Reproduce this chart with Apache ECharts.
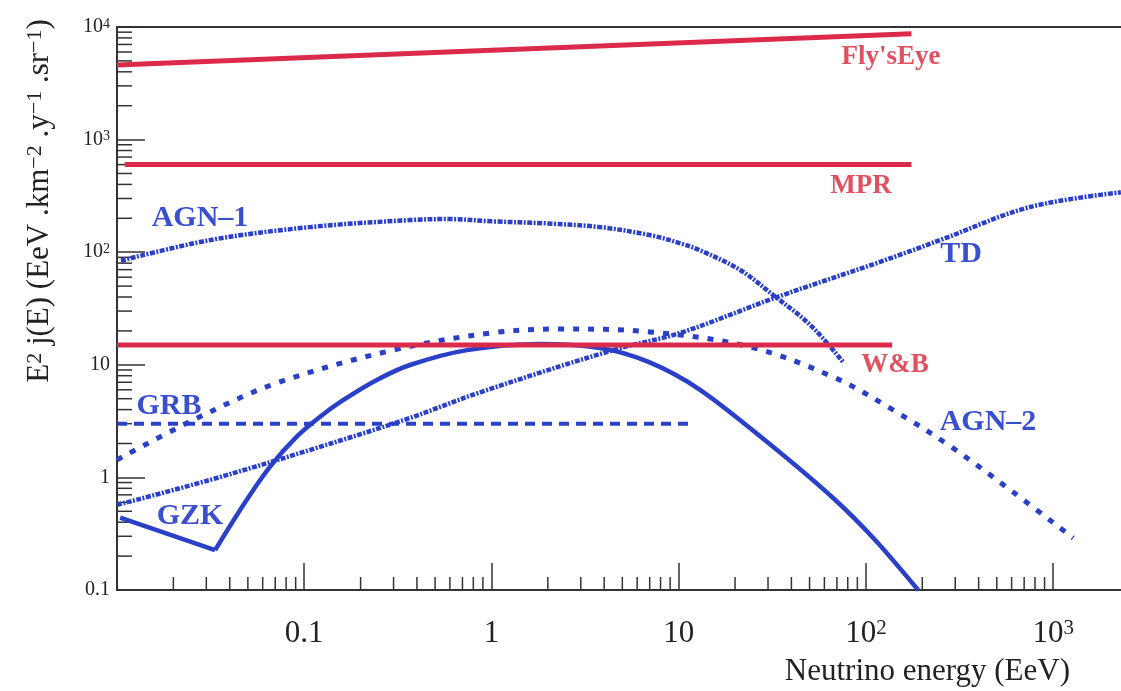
<!DOCTYPE html>
<html>
<head>
<meta charset="utf-8">
<title>Neutrino flux limits</title>
<script src="https://cdn.jsdelivr.net/npm/echarts@6/dist/echarts.min.js"></script>
<style>
  html, body { margin: 0; padding: 0; background: #fff; }
  #main { width: 1121px; height: 691px; }
</style>
</head>
<body>
<div id="main"></div>
<script>
// neutrino energy (EeV) and E^2 j(E)
var flysEyeX = [0.01, 175];
var flysEyeY = [4600, 8700];
var mprX = [0.011, 175];
var mprY = [600, 600];
var wbX = [0.01, 138];
var wbY = [15, 15];
var grbX = [0.01, 11.5];
var grbY = [3, 3];

var agn1X = [0.0105, 0.0314, 0.107, 0.367, 0.6, 1, 2, 3.8, 7, 10.2, 13, 21.3, 31.9, 50.4, 75.5];
var agn1Y = [84, 128, 167, 193, 197, 188, 180, 167, 142, 120, 104, 69.5, 41.7, 22.6, 10.6];

var tdX = [0.01, 0.0314, 0.107, 0.367, 0.87, 4.46, 10.2, 33.6, 119, 249, 753, 2300];
var tdY = [0.57, 0.95, 1.75, 3.37, 5.7, 13.5, 19.2, 40, 82, 128, 252, 340];

var agn2X = [0.01, 0.0255, 0.0716, 0.298, 1, 2.3, 7, 24, 66.8, 139.7, 292, 611, 1280];
var agn2Y = [1.43, 3.23, 6.9, 13.5, 19.2, 20.8, 19.6, 14.4, 7.8, 3.97, 1.82, 0.74, 0.29];

// GZK has a sharp dip at ~0.033 EeV (index 1)
var gzkX = [0.0104, 0.0334, 0.0473, 0.0657, 0.0912, 0.1215, 0.162, 0.244, 0.367, 0.74, 1.8, 3.8, 6.9, 13, 29.7, 66.8, 112, 190];
var gzkY = [0.44, 0.226, 0.569, 1.245, 2.3, 3.46, 4.87, 7.33, 9.96, 13.5, 15.3, 14.1, 10.6, 6.0, 2.06, 0.656, 0.278, 0.1];
var gzkDip = 1;

var xMin = 0.01, xMax = 2480;
var yMin = 0.1, yMax = 10000;
var xDecades = [0.01, 0.1, 1, 10, 100];
var yDecades = [0.1, 1, 10, 100, 1000];
var minorSteps = [2, 3, 4, 5, 6, 7, 8, 9];

function pairs(xs, ys) {
  return xs.map(function (x, i) { return [x, ys[i]]; });
}

// minor ticks at 2..9 of each decade, drawn through the axes
var minorTicks = [];
xDecades.forEach(function (d) {
  minorSteps.forEach(function (m) {
    minorTicks.push([d * m, yMin, 0]);
  });
});
yDecades.forEach(function (d) {
  minorSteps.forEach(function (m) {
    minorTicks.push([xMin, d * m, 1]);
  });
});

var serif = "'Liberation Serif', 'DejaVu Serif', serif";
var red = '#dc2b4a';
var redText = '#e0505e';
var blue = '#2b40c8';
var blueText = '#3a4fd0';

function powLabel(v) {
  var l = Math.log10(v);
  var e = Math.round(l);
  if (Math.abs(l - e) > 1e-6 || e < -1) return '';
  if (e === -1) return '0.1';
  if (e === 0) return '1';
  if (e === 1) return '10';
  return '10{s|' + e + '}';
}

function blueLabel(x, y, text) {
  return { type: 'text', x: x, y: y, style: { text: text, font: 'bold 30px ' + serif, fill: blueText, align: 'center', verticalAlign: 'middle' } };
}
function redLabel(x, y, text) {
  return { type: 'text', x: x, y: y, style: { text: text, font: 'bold 27px ' + serif, fill: redText, align: 'center', verticalAlign: 'middle' } };
}

var gzkData = pairs(gzkX, gzkY);
var dashDot = { color: blue, width: 4.5, type: [5, 1.5, 2, 1.5], cap: 'butt' };

var myChart = echarts.init(document.getElementById('main'));

myChart.setOption({
  backgroundColor: '#ffffff',
  animation: false,
  grid: { left: 117, top: 27, right: -6, bottom: 101, containLabel: false, outerBoundsMode: 'none' },
  xAxis: [{
    type: 'log',
    min: xMin,
    max: xMax,
    splitLine: { show: false },
    axisLine: { lineStyle: { color: '#333', width: 2 } },
    axisTick: { inside: true, length: 27, lineStyle: { color: '#333', width: 1.5 } },
    axisLabel: {
      margin: 28,
      fontFamily: serif,
      fontSize: 31,
      color: '#222',
      formatter: powLabel,
      rich: {
        s: { fontFamily: serif, fontSize: 21, color: '#222', verticalAlign: 'top', lineHeight: 18 }
      }
    }
  }, {
    type: 'log',
    position: 'top',
    min: xMin,
    max: xMax,
    splitLine: { show: false },
    axisLine: { lineStyle: { color: '#333', width: 2 } },
    axisTick: { show: false },
    axisLabel: { show: false }
  }],
  yAxis: {
    type: 'log',
    min: yMin,
    max: yMax,
    splitLine: { show: false },
    axisLine: { lineStyle: { color: '#333', width: 2 } },
    axisTick: { inside: true, length: 28, lineStyle: { color: '#333', width: 1.5 } },
    axisLabel: {
      margin: 7,
      fontFamily: serif,
      fontSize: 20,
      color: '#222',
      formatter: powLabel,
      rich: {
        s: { fontFamily: serif, fontSize: 14, color: '#222', verticalAlign: 'top', lineHeight: 14 }
      }
    }
  },
  graphic: [
    {
      type: 'text', x: 40, y: 201, rotation: Math.PI / 2,
      style: {
        text: 'E{s|2} j(E) (EeV .km{s|−2} .y{s|−1} .sr{s|−1})',
        font: '31px ' + serif,
        fill: '#222',
        align: 'center',
        verticalAlign: 'middle',
        rich: {
          s: { fontFamily: serif, fontSize: 22, fill: '#222', verticalAlign: 'top', lineHeight: 20 }
        }
      }
    },
    { type: 'text', x: 1070, y: 672, style: { text: 'Neutrino energy (EeV)', font: '31px ' + serif, fill: '#222', align: 'right', verticalAlign: 'middle' } },
    redLabel(891, 57, "Fly'sEye"),
    redLabel(861, 186, 'MPR'),
    redLabel(895, 365, 'W&B'),
    blueLabel(200, 218, 'AGN–1'),
    blueLabel(961, 254, 'TD'),
    blueLabel(169, 406, 'GRB'),
    blueLabel(190, 516, 'GZK'),
    blueLabel(988, 422, 'AGN–2')
  ],
  series: [
    {
      name: 'minor ticks',
      type: 'custom',
      silent: true,
      data: minorTicks,
      encode: { x: 0, y: 1 },
      renderItem: function (params, api) {
        var p = api.coord([api.value(0), api.value(1)]);
        var onX = api.value(2) === 0;
        return {
          type: 'line',
          shape: onX
            ? { x1: p[0], y1: p[1], x2: p[0], y2: p[1] - 13 }
            : { x1: p[0], y1: p[1], x2: p[0] + 15, y2: p[1] },
          style: { stroke: '#333', lineWidth: 1.5 }
        };
      }
    },
    {
      name: 'GRB', type: 'line', data: pairs(grbX, grbY), symbol: 'none',
      lineStyle: { color: blue, width: 4, type: [10, 7], cap: 'butt' }
    },
    {
      name: 'AGN-2', type: 'line', data: pairs(agn2X, agn2Y), symbol: 'none', smooth: 0.35,
      lineStyle: { color: blue, width: 5, type: [6, 9], cap: 'butt' }
    },
    {
      name: 'AGN-1', type: 'line', data: pairs(agn1X, agn1Y), symbol: 'none', smooth: 0.35,
      lineStyle: dashDot
    },
    {
      name: 'TD', type: 'line', data: pairs(tdX, tdY), symbol: 'none', smooth: 0.35,
      lineStyle: dashDot
    },
    {
      name: 'GZK', type: 'line', data: gzkData.slice(0, gzkDip + 1), symbol: 'none',
      lineStyle: { color: blue, width: 4.5, join: 'round' }
    },
    {
      name: 'GZK', type: 'line', data: gzkData.slice(gzkDip), symbol: 'none', smooth: 0.3,
      lineStyle: { color: blue, width: 4.5, join: 'round' }
    },
    {
      name: "Fly'sEye", type: 'line', data: pairs(flysEyeX, flysEyeY), symbol: 'none', z: 5,
      lineStyle: { color: red, width: 5 }
    },
    {
      name: 'MPR', type: 'line', data: pairs(mprX, mprY), symbol: 'none', z: 5,
      lineStyle: { color: red, width: 5 }
    },
    {
      name: 'W&B', type: 'line', data: pairs(wbX, wbY), symbol: 'none', z: 5,
      lineStyle: { color: red, width: 5 }
    }
  ]
});
</script>
</body>
</html>
